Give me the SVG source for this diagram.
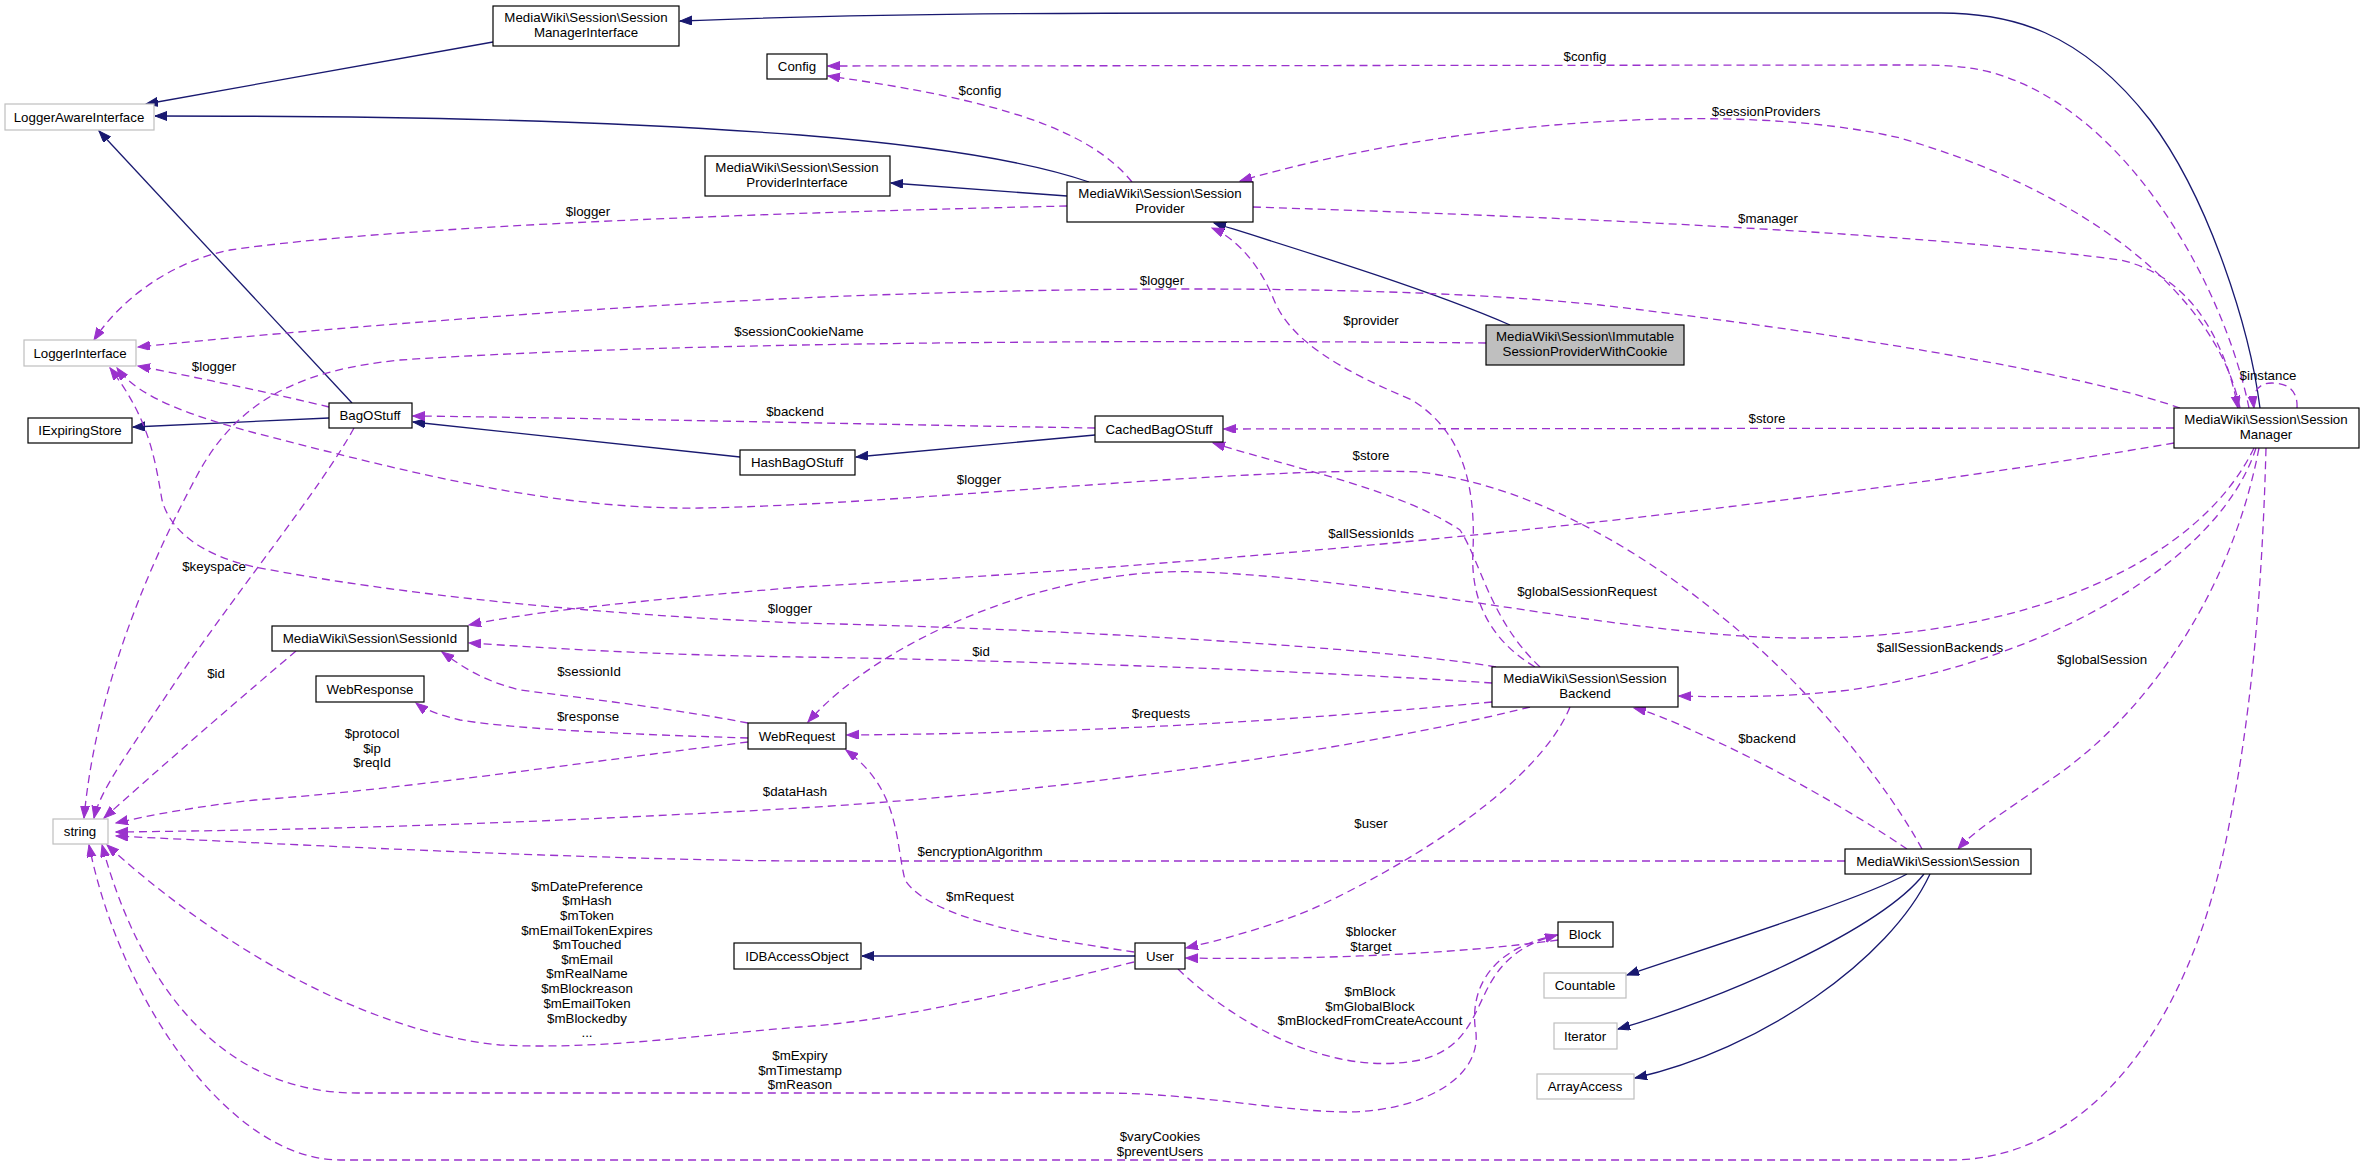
<svg xmlns="http://www.w3.org/2000/svg" width="2365" height="1165" viewBox="0 0 2365 1165">
<defs>
<style>
text{font-family:"Liberation Sans",Arial,sans-serif;font-size:13.3px;fill:#000;text-anchor:middle}
.n rect{fill:#fff;stroke:#000;stroke-width:1.2}
.x rect{fill:#fff;stroke:#bfbfbf;stroke-width:1.2}
.f rect{fill:#bfbfbf;stroke:#000;stroke-width:1.2}
.inh{fill:none;stroke:#191970;stroke-width:1.3;marker-end:url(#an)}
.use{fill:none;stroke:#9a32cd;stroke-width:1.3;stroke-dasharray:8,5;marker-end:url(#ap)}
</style>
<marker id="an" markerUnits="userSpaceOnUse" markerWidth="13" markerHeight="10" refX="12" refY="4.5" orient="auto"><path d="M0,0 L12,4.5 L0,9 z" fill="#191970" stroke="#191970"/></marker>
<marker id="ap" markerUnits="userSpaceOnUse" markerWidth="13" markerHeight="10" refX="12" refY="4.5" orient="auto"><path d="M0,0 L12,4.5 L0,9 z" fill="#9a32cd" stroke="#9a32cd"/></marker>
</defs>
<rect width="2365" height="1165" fill="#fff"/>
<g id="edges">
<path class="inh" d="M2260,408 C2250,330 2210,200 2150,120 C2080,30 2010,13 1941,13 L1200,13 C1000,13 800,16 680,21"/>
<path class="inh" d="M493,42 L146,104"/>
<path class="inh" d="M1089,182 C1040,165 960,148 800,135 C600,120 400,116 155,116"/>
<path class="inh" d="M1067,196 L891,183"/>
<path class="inh" d="M1510,325 C1430,290 1300,250 1214,223"/>
<path class="inh" d="M352,403 L99,131"/>
<path class="inh" d="M329,418 L133,427"/>
<path class="inh" d="M740,457 L413,422"/>
<path class="inh" d="M1095,435 L856,457"/>
<path class="inh" d="M1135,956 L862,956"/>
<path class="inh" d="M1907,874 C1860,900 1700,950 1627,975"/>
<path class="inh" d="M1924,874 C1880,930 1720,1000 1618,1029"/>
<path class="inh" d="M1930,874 C1890,960 1760,1050 1635,1078"/>

<path class="use" d="M2249,408 C2225,290 2130,110 1990,72 C1960,65 1940,65 1900,65 L828,66"/>
<text x="1585" y="61">$config</text>
<path class="use" d="M1132,182 C1090,130 1000,100 828,76"/>
<text x="980" y="95">$config</text>
<path class="use" d="M2240,408 C2215,290 2080,190 1900,138 C1740,100 1450,120 1240,181"/>
<text x="1766" y="116">$sessionProviders</text>
<path class="use" d="M1253,207 C1500,215 1900,230 2120,260 C2190,275 2225,340 2238,408"/>
<text x="1768" y="223">$manager</text>
<path class="use" d="M2180,408 C2100,380 1900,340 1600,305 C1400,285 1100,285 800,298 C600,307 300,330 138,347"/>
<text x="1162" y="285">$logger</text>
<path class="use" d="M1067,206 C800,212 400,225 230,250 C170,262 120,300 94,340"/>
<text x="588" y="216">$logger</text>
<path class="use" d="M1486,343 C1200,340 700,340 400,360 C300,370 240,400 200,470 C140,580 95,700 84,818"/>
<text x="799" y="336">$sessionCookieName</text>
<path class="use" d="M329,407 C280,395 200,378 138,366"/>
<text x="214" y="371">$logger</text>
<path class="use" d="M354,428 C320,490 230,600 170,690 C130,750 100,790 94,818"/>
<text x="214" y="571">$keyspace</text>
<path class="use" d="M296,651 C250,690 180,750 104,818"/>
<text x="216" y="678">$id</text>
<path class="use" d="M1095,428 C900,425 600,418 413,416"/>
<text x="795" y="416">$backend</text>
<path class="use" d="M2174,428 L1224,429"/>
<text x="1767" y="423">$store</text>
<path class="use" d="M1540,667 C1490,620 1480,560 1460,530 C1400,490 1300,470 1213,443"/>
<text x="1371" y="460">$store</text>
<path class="use" d="M1535,667 C1490,640 1470,600 1473,550 C1476,480 1460,430 1412,400 C1340,370 1290,340 1274,300 C1262,270 1240,240 1212,228"/>
<text x="1371" y="325">$provider</text>
<path class="use" d="M2254,448 C2200,560 2030,640 1795,638 C1620,636 1400,580 1200,572 C1050,566 880,640 808,722"/>
<text x="1587" y="596">$globalSessionRequest</text>
<path class="use" d="M2174,443 C1900,490 1400,555 800,587 C650,600 540,610 469,625"/>
<text x="1371" y="538">$allSessionIds</text>
<path class="use" d="M2256,448 C2220,560 2050,660 1850,690 C1780,698 1720,697 1679,696"/>
<text x="1940" y="652">$allSessionBackends</text>
<path class="use" d="M2259,448 C2230,600 2140,720 2050,780 C2000,815 1975,830 1958,849"/>
<text x="2102" y="664">$globalSession</text>
<path class="use" d="M2266,448 C2262,600 2250,720 2230,820 C2190,1040 2080,1160 1950,1160 L340,1160 C230,1160 120,1000 89,845"/>
<text x="1160" y="1141">$varyCookies</text>
<text x="1160" y="1156">$preventUsers</text>
<path class="use" d="M2297,408 C2298,388 2285,383 2272,383 C2258,383 2252,392 2254,408"/>
<text x="2268" y="380">$instance</text>
<path class="use" d="M1922,849 C1890,790 1820,700 1746,637 C1680,580 1560,490 1420,472 C1250,465 900,505 700,508 C550,510 400,470 255,433 C200,418 140,400 117,368"/>
<text x="979" y="484">$logger</text>
<path class="use" d="M1496,667 C1400,650 1100,630 800,623 C600,615 400,595 255,567 C200,555 170,530 162,500 C155,460 150,420 110,368"/>
<text x="790" y="613">$logger</text>
<path class="use" d="M1492,683 C1300,670 1000,660 800,657 C650,655 550,648 469,643"/>
<text x="981" y="656">$id</text>
<path class="use" d="M1492,702 C1300,720 1100,733 847,735"/>
<text x="1161" y="718">$requests</text>
<path class="use" d="M1530,707 C1400,740 1100,790 800,808 C500,825 300,830 116,832"/>
<text x="795" y="796">$dataHash</text>
<path class="use" d="M1570,707 C1540,780 1420,860 1310,910 C1260,930 1220,940 1186,948"/>
<text x="1371" y="828">$user</text>
<path class="use" d="M1907,849 C1850,810 1760,760 1698,733 C1670,720 1650,712 1634,708"/>
<text x="1767" y="743">$backend</text>
<path class="use" d="M1845,861 L800,861 C600,860 300,845 116,836"/>
<text x="980" y="856">$encryptionAlgorithm</text>
<path class="use" d="M748,742 C600,760 400,790 255,800 C200,806 150,815 116,823"/>
<text x="372" y="738">$protocol</text>
<text x="372" y="753">$ip</text>
<text x="372" y="767">$reqId</text>
<path class="use" d="M748,723 C680,710 600,700 520,690 C480,680 460,665 442,652"/>
<text x="589" y="676">$sessionId</text>
<path class="use" d="M748,738 C650,735 520,730 460,720 C440,715 425,710 416,703"/>
<text x="588" y="721">$response</text>
<path class="use" d="M1134,952 C1050,940 930,920 905,880 C895,840 900,790 846,750"/>
<text x="980" y="901">$mRequest</text>
<path class="use" d="M1558,940 C1450,955 1300,960 1186,958"/>
<text x="1371" y="936">$blocker</text>
<text x="1371" y="951">$target</text>
<path class="use" d="M1178,969 C1220,1010 1320,1080 1420,1060 C1500,1040 1460,960 1557,935"/>
<text x="1370" y="996">$mBlock</text>
<text x="1370" y="1011">$mGlobalBlock</text>
<text x="1370" y="1025">$mBlockedFromCreateAccount</text>
<path class="use" d="M1558,935 C1480,950 1470,1000 1476,1033 C1480,1080 1420,1110 1351,1112 C1280,1112 1200,1093 1100,1093 L357,1093 C200,1093 130,950 102,845"/>
<text x="800" y="1060">$mExpiry</text>
<text x="800" y="1075">$mTimestamp</text>
<text x="800" y="1089">$mReason</text>
<path class="use" d="M1134,962 C1000,995 900,1020 800,1027 C700,1035 600,1050 500,1045 C350,1030 200,930 107,845"/>
<text x="587" y="891">$mDatePreference</text>
<text x="587" y="905">$mHash</text>
<text x="587" y="920">$mToken</text>
<text x="587" y="935">$mEmailTokenExpires</text>
<text x="587" y="949">$mTouched</text>
<text x="587" y="964">$mEmail</text>
<text x="587" y="978">$mRealName</text>
<text x="587" y="993">$mBlockreason</text>
<text x="587" y="1008">$mEmailToken</text>
<text x="587" y="1023">$mBlockedby</text>
<text x="587" y="1037">...</text>
</g>
<g id="SessionManagerInterface" class="n"><rect x="493" y="6" width="186" height="40"/><text x="586" y="22">MediaWiki\Session\Session</text><text x="586" y="37">ManagerInterface</text></g>
<g id="LoggerAwareInterface" class="x"><rect x="5" y="104" width="149" height="26"/><text x="79" y="122">LoggerAwareInterface</text></g>
<g id="Config" class="n"><rect x="767" y="54" width="60" height="25"/><text x="797" y="71">Config</text></g>
<g id="SessionProviderInterface" class="n"><rect x="705" y="156" width="185" height="40"/><text x="797" y="172">MediaWiki\Session\Session</text><text x="797" y="187">ProviderInterface</text></g>
<g id="SessionProvider" class="n"><rect x="1067" y="182" width="186" height="40"/><text x="1160" y="198">MediaWiki\Session\Session</text><text x="1160" y="213">Provider</text></g>
<g id="ImmutableSessionProviderWithCookie" class="f"><rect x="1486" y="325" width="198" height="40"/><text x="1585" y="341">MediaWiki\Session\Immutable</text><text x="1585" y="356">SessionProviderWithCookie</text></g>
<g id="LoggerInterface" class="x"><rect x="24" y="340" width="112" height="26"/><text x="80" y="358">LoggerInterface</text></g>
<g id="BagOStuff" class="n"><rect x="329" y="403" width="83" height="25"/><text x="370" y="420">BagOStuff</text></g>
<g id="IExpiringStore" class="n"><rect x="28" y="418" width="104" height="25"/><text x="80" y="435">IExpiringStore</text></g>
<g id="HashBagOStuff" class="n"><rect x="740" y="450" width="115" height="25"/><text x="797" y="467">HashBagOStuff</text></g>
<g id="CachedBagOStuff" class="n"><rect x="1095" y="416" width="128" height="26"/><text x="1159" y="434">CachedBagOStuff</text></g>
<g id="SessionManager" class="n"><rect x="2174" y="408" width="185" height="40"/><text x="2266" y="424">MediaWiki\Session\Session</text><text x="2266" y="439">Manager</text></g>
<g id="SessionId" class="n"><rect x="272" y="626" width="196" height="25"/><text x="370" y="643">MediaWiki\Session\SessionId</text></g>
<g id="WebResponse" class="n"><rect x="316" y="676" width="108" height="26"/><text x="370" y="694">WebResponse</text></g>
<g id="WebRequest" class="n"><rect x="748" y="723" width="98" height="26"/><text x="797" y="741">WebRequest</text></g>
<g id="SessionBackend" class="n"><rect x="1492" y="667" width="186" height="40"/><text x="1585" y="683">MediaWiki\Session\Session</text><text x="1585" y="698">Backend</text></g>
<g id="string" class="x"><rect x="53" y="819" width="55" height="25"/><text x="80" y="836">string</text></g>
<g id="Session" class="n"><rect x="1845" y="849" width="186" height="25"/><text x="1938" y="866">MediaWiki\Session\Session</text></g>
<g id="IDBAccessObject" class="n"><rect x="734" y="943" width="127" height="26"/><text x="797" y="961">IDBAccessObject</text></g>
<g id="User" class="n"><rect x="1135" y="943" width="50" height="26"/><text x="1160" y="961">User</text></g>
<g id="Block" class="n"><rect x="1558" y="922" width="55" height="25"/><text x="1585" y="939">Block</text></g>
<g id="Countable" class="x"><rect x="1544" y="973" width="82" height="25"/><text x="1585" y="990">Countable</text></g>
<g id="Iterator" class="x"><rect x="1554" y="1023" width="63" height="26"/><text x="1585" y="1041">Iterator</text></g>
<g id="ArrayAccess" class="x"><rect x="1537" y="1074" width="97" height="25"/><text x="1585" y="1091">ArrayAccess</text></g>
</svg>
